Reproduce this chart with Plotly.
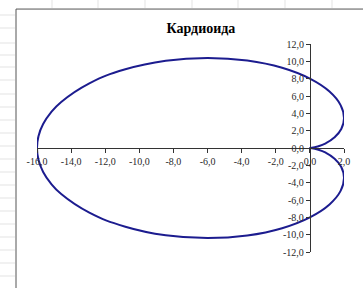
import plotly.graph_objects as go

# Cardioid points
x_upper = [0.0, 0.12, 0.45, 0.93, 1.43, 1.84, 2.0, 1.80, 1.15, 0.0, -1.63, -3.67, -6.0,
           -8.45, -10.82, -12.93, -14.58, -15.19, -15.64, -15.91, -16.0]
y_upper = [0.0, 0.02, 0.17, 0.54, 1.20, 2.19, 3.46, 4.95, 6.51, 8.0, 9.25, 10.09, 10.39,
           10.07, 9.08, 7.46, 5.31, 4.07, 2.76, 1.39, 0.0]
x_lower = [-15.91, -15.64, -15.19, -14.58, -12.93, -10.82, -8.45, -6.0, -3.67, -1.63, 0.0,
           1.15, 1.80, 2.0, 1.84, 1.43, 0.93, 0.45, 0.12, 0.0]
y_lower = [-1.39, -2.76, -4.07, -5.31, -7.46, -9.08, -10.07, -10.39, -10.09, -9.25, -8.0,
           -6.51, -4.95, -3.46, -2.19, -1.20, -0.54, -0.17, -0.02, 0.0]

x_tick_vals = [-16, -14, -12, -10, -8, -6, -4, -2, 0, 2]
x_tick_text = ["-16,0", "-14,0", "-12,0", "-10,0", "-8,0", "-6,0", "-4,0", "-2,0", "0,0", "2,0"]
y_tick_vals = [-12, -10, -8, -6, -4, -2, 0, 2, 4, 6, 8, 10, 12]
y_tick_text = ["-12,0", "-10,0", "-8,0", "-6,0", "-4,0", "-2,0", "0,0", "2,0", "4,0",
               "6,0", "8,0", "10,0", "12,0"]

title_text = "Кардиоида"

xs = x_upper + x_lower
ys = y_upper + y_lower

fig = go.Figure()
fig.add_trace(go.Scatter(x=xs, y=ys, mode="lines",
                         line=dict(color="#1c1c8f", width=2, shape="spline", smoothing=1.3),
                         showlegend=False, hoverinfo="skip"))

axis_font = dict(family="Liberation Serif", size=10, color="#2a2a2a")
x_range = [-16, 2]
y_range = [-12, 12]

fig.update_layout(
    width=363, height=288,
    margin=dict(l=37, r=19, t=44, b=36),
    paper_bgcolor="white", plot_bgcolor="white",
    title=dict(text="<b>" + title_text + "</b>", x=0.534, xref="paper", xanchor="center",
               y=0.903, yref="container", yanchor="middle",
               font=dict(family="Liberation Serif", size=14, color="black")),
    xaxis=dict(range=x_range, tickvals=x_tick_vals, ticktext=x_tick_text,
               showgrid=False, zeroline=False, showline=True, linecolor="#333333",
               linewidth=1, ticks="outside", ticklen=4, tickcolor="#333333",
               tickfont=axis_font, anchor="free", automargin=False,
               position=(0 - y_range[0]) / (y_range[1] - y_range[0])),
    yaxis=dict(range=y_range, tickvals=y_tick_vals, ticktext=y_tick_text,
               showgrid=False, zeroline=False, showline=True, linecolor="#333333",
               linewidth=1, ticks="outside", ticklen=4, tickcolor="#333333",
               tickfont=axis_font, anchor="free", automargin=False,
               position=(0 - x_range[0]) / (x_range[1] - x_range[0])),
)

# chart frame
fig.add_shape(type="rect", xref="paper", yref="paper",
              x0=-0.0684, x1=1.3, y0=-0.4, y1=1.168,
              line=dict(color="#555555", width=1), fillcolor="rgba(0,0,0,0)", layer="below")

# faint spreadsheet cell lines outside the frame
for px in [52, 98, 145, 192, 238, 285, 332]:
    xp = (px - 37) / 307
    fig.add_shape(type="line", xref="paper", yref="paper", x0=xp, x1=xp,
                  y0=1 + (44 - 0) / 208, y1=1 + (44 - 8) / 208,
                  line=dict(color="#e3e3e3", width=1))
for py in [15, 28, 43, 55, 67, 80, 94, 107, 120, 133, 146, 159, 172, 185, 198, 211, 224, 237, 250, 263, 276]:
    yp = 1 - (py - 44) / 208
    fig.add_shape(type="line", xref="paper", yref="paper", x0=(0 - 37) / 307, x1=(15 - 37) / 307,
                  y0=yp, y1=yp, line=dict(color="#e3e3e3", width=1))

fig.write_html("out.html", config={"displayModeBar": False},
               post_script="document.body.style.margin='0px';")
